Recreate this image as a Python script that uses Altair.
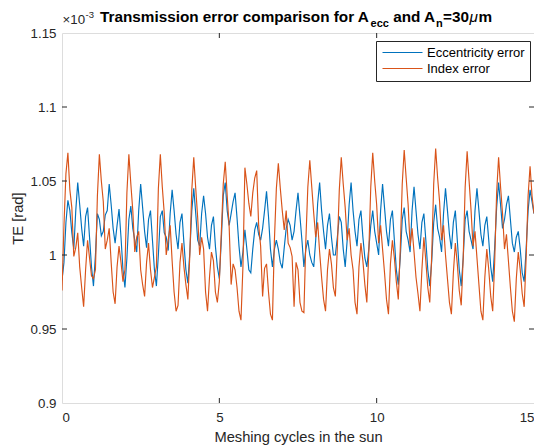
import altair as alt
import pandas as pd

# ---- data (values in units of 1e-3 rad) ----
series_names = ["Eccentricity error", "Index error"]
series_colors = ["#0072BD", "#D95319"]
x_ticks = [0, 5, 10, 15]
y_ticks = [0.9, 0.95, 1.0, 1.05, 1.1, 1.15]
inner_x_ticks = [5, 10]
inner_y_ticks = [0.95, 1.0, 1.05, 1.1]
samples_per_cycle = 16

ecc_error = [
    0.983, 0.995, 1.022, 1.037, 1.030, 1.015, 1.004, 1.030, 1.049, 1.034, 1.018, 1.006, 1.026, 1.032, 1.012, 0.992,
    0.979, 1.000, 1.028, 1.024, 1.013, 1.016, 1.027, 1.030, 1.048, 1.034, 1.018, 1.008, 1.020, 1.031, 1.012, 0.990,
    0.978, 0.998, 1.024, 1.033, 1.018, 1.010, 1.002, 1.030, 1.048, 1.032, 1.016, 1.005, 1.024, 1.030, 1.010, 0.990,
    0.979, 1.000, 1.026, 1.030, 1.015, 1.012, 1.003, 1.028, 1.044, 1.030, 1.014, 1.004, 1.022, 1.028, 1.008, 0.990,
    0.981, 1.002, 1.030, 1.045, 1.028, 1.010, 1.006, 1.028, 1.040, 1.028, 1.012, 1.004, 1.020, 1.026, 1.006, 0.992,
    0.984, 1.010, 1.040, 1.049, 1.030, 1.020, 1.028, 1.036, 1.042, 1.025, 1.006, 0.992, 1.002, 1.017, 1.004, 0.990,
    0.988, 1.004, 1.017, 1.022, 1.014, 1.010, 1.018, 1.030, 1.043, 1.026, 1.004, 0.992, 1.004, 1.010, 1.004, 0.995,
    0.991, 1.005, 1.018, 1.024, 1.020, 1.010, 1.016, 1.030, 1.042, 1.026, 1.010,
    0.992, 1.004, 1.010, 1.000, 0.995, 0.992, 1.010, 1.035, 1.049, 1.030, 1.016, 1.004, 1.020, 1.028, 1.012, 1.000,
    1.000, 1.012, 1.026, 1.022, 1.004, 0.992, 1.010, 1.034, 1.049, 1.030, 1.016, 1.006, 1.024, 1.030, 1.012, 0.998,
    0.992, 1.004, 1.020, 1.030, 1.016, 1.008, 1.000, 1.030, 1.048, 1.032, 1.016, 1.006, 1.024, 1.030, 1.010, 0.990,
    0.980, 0.998, 1.024, 1.032, 1.016, 1.010, 1.002, 1.030, 1.046, 1.030, 1.014, 1.004, 1.022, 1.028, 1.010, 0.990,
    0.979, 0.996, 1.022, 1.034, 1.018, 1.012, 1.002, 1.028, 1.045, 1.030, 1.014, 1.004, 1.022, 1.030, 1.010, 0.990,
    0.979, 0.998, 1.024, 1.030, 1.016, 1.010, 1.004, 1.030, 1.045, 1.030, 1.014, 1.006, 1.020, 1.026, 1.010, 0.992,
    0.982, 1.005, 1.032, 1.049, 1.034, 1.018, 1.024, 1.034, 1.040, 1.024, 1.008, 1.002, 1.012, 1.016, 1.004, 0.988,
    0.982, 1.004, 1.030, 1.044, 1.036, 1.028,
]

index_error = [
    0.976, 1.020, 1.055,
    1.069, 1.044, 1.032, 0.999, 1.005, 1.015, 0.992, 0.978, 0.965, 0.990, 1.010, 0.998, 0.986, 0.984, 0.990, 1.040,
    1.068, 1.050, 1.036, 1.004, 1.010, 1.018, 0.995, 0.975, 0.967, 0.992, 1.006, 0.995, 0.982, 0.990, 1.042,
    1.068, 1.048, 1.030, 1.002, 1.012, 1.016, 0.990, 0.980, 0.972, 0.995, 1.008, 0.990, 0.978, 0.985, 0.992, 1.045,
    1.068, 1.046, 1.028, 1.000, 1.010, 1.020, 0.996, 0.975, 0.962, 0.966, 0.995, 1.008, 0.992, 0.980, 0.970, 1.000, 1.044,
    1.066, 1.045, 1.025, 1.000, 1.012, 1.004, 0.975, 0.962, 0.985, 1.002, 0.996, 0.975, 0.968, 0.982, 1.015, 1.048,
    1.063, 1.040, 1.019, 0.980, 0.994, 0.990, 0.978, 0.962, 0.956, 0.992,
    1.059, 1.048, 1.035, 1.026, 1.042, 1.052,
    1.057, 1.020, 1.006, 0.972, 0.991, 0.994, 0.975, 0.960, 0.956, 1.010, 1.045,
    1.062, 1.045, 1.030, 1.017, 1.030, 1.008, 1.005, 0.999, 0.965, 0.995, 0.990, 0.968, 0.962, 0.961, 1.010, 1.046,
    1.064, 1.046, 1.028, 1.012, 1.022, 1.002, 0.985, 0.970, 0.962, 0.990, 1.004, 0.994, 0.978, 0.972, 1.005, 1.044,
    1.066, 1.048, 1.032, 1.010, 1.018, 1.000, 0.990, 0.968, 0.960, 0.992, 1.008, 0.996, 0.980, 0.968, 1.002, 1.046,
    1.069, 1.050, 1.034, 1.008, 1.020, 1.004, 0.988, 0.970, 0.960, 0.994, 1.010, 0.998, 0.982, 0.970, 1.004, 1.048,
    1.071, 1.052, 1.034, 1.006, 1.018, 1.002, 0.985, 0.974, 0.962, 0.990, 1.012, 0.996, 0.978, 0.968, 1.000, 1.048,
    1.072, 1.052, 1.036, 1.010, 1.020, 1.000, 0.984, 0.968, 0.960, 0.988, 1.008, 0.994, 0.976, 0.966, 0.998, 1.046,
    1.070, 1.050, 1.030, 1.006, 1.016, 0.998, 0.980, 0.962, 0.956, 0.985, 1.004, 0.990, 0.972, 0.962, 0.995, 1.042,
    1.066, 1.046, 1.028, 1.004, 1.014, 0.996, 0.978, 0.962, 0.955, 0.984, 1.002, 0.990, 0.974, 0.965, 0.998, 1.040,
    1.060, 1.040, 1.028,
]

# ---- table ----
rows = []
for name, vals in zip(series_names, [ecc_error, index_error]):
    for i, v in enumerate(vals):
        rows.append({"cycles": i / samples_per_cycle, "te": v, "series": name})
df = pd.DataFrame(rows)

W, H = 472, 370
FONT = "Liberation Sans"
AXC = "#262626"

xscale = alt.Scale(domain=[0, 15], nice=False, zero=False)
yscale = alt.Scale(domain=[0.9, 1.15], nice=False, zero=False)

xaxis = alt.Axis(values=x_ticks, title="Meshing cycles in the sun", grid=False,
                 domain=False, ticks=False, labelPadding=7, titlePadding=6,
                 labelFontSize=13.3, titleFontSize=14.7, labelColor=AXC, titleColor=AXC,
                 labelFont=FONT, titleFont=FONT, titleFontWeight="normal")
yaxis = alt.Axis(values=y_ticks, format=".3~g", title="TE [rad]", grid=False,
                 domain=False, ticks=False, labelPadding=6, titlePadding=5,
                 labelFontSize=13.3, titleFontSize=14.7, labelColor=AXC, titleColor=AXC,
                 labelFont=FONT, titleFont=FONT, titleFontWeight="normal")

lines = alt.Chart(df).mark_line(strokeWidth=1.15, clip=True).encode(
    x=alt.X("cycles:Q", scale=xscale, axis=xaxis),
    y=alt.Y("te:Q", scale=yscale, axis=yaxis),
    color=alt.Color("series:N", scale=alt.Scale(domain=series_names, range=series_colors),
                    legend=alt.Legend(orient="none", legendX=314, legendY=8, title=None,
                                      symbolType="M-1,0H7", symbolSize=100, symbolStrokeWidth=1.2,
                                      labelFont=FONT, labelFontSize=13, labelColor="black",
                                      labelOffset=33, strokeColor=AXC, fillColor="white",
                                      padding=5, rowPadding=2)),
)

xt = pd.DataFrame({"v": inner_x_ticks})
yt = pd.DataFrame({"v": inner_y_ticks})
tick_style = dict(color=AXC, strokeWidth=1)
bottom_ticks = alt.Chart(xt).mark_rule(**tick_style).encode(
    x=alt.X("v:Q", scale=xscale, axis=xaxis), y=alt.value(H), y2=alt.value(H - 5))
top_ticks = alt.Chart(xt).mark_rule(**tick_style).encode(
    x=alt.X("v:Q", scale=xscale, axis=xaxis), y=alt.value(0), y2=alt.value(5))
left_ticks = alt.Chart(yt).mark_rule(**tick_style).encode(
    y=alt.Y("v:Q", scale=yscale, axis=yaxis), x=alt.value(0), x2=alt.value(5))
right_ticks = alt.Chart(yt).mark_rule(**tick_style).encode(
    y=alt.Y("v:Q", scale=yscale, axis=yaxis), x=alt.value(W), x2=alt.value(W - 5))

one = pd.DataFrame({"a": [0]})

def label(text, x, y, size, weight="bold", color="black", style="normal"):
    return alt.Chart(one).mark_text(text=text, align="left", baseline="alphabetic", font=FONT,
                                    fontSize=size, fontWeight=weight, fontStyle=style,
                                    color=color).encode(x=alt.value(x), y=alt.value(y))

TB = -11   # title baseline (plot coords)
SB = -6    # subscript baseline
title_parts = [
    label("Transmission error comparison for A", 38.0, TB, 15.3),
    label("ecc", 308.6, SB, 11),
    label("and A", 331.2, TB, 15.3),
    label("n", 374.0, SB, 11),
    label("=30", 381.0, TB, 15.3),
    label("\u03bc", 407.5, TB, 15.3, weight="normal", style="italic"),
    label("m", 416.5, TB, 15.3),
]
exponent = [
    label("\u00d710", 0.5, -9, 13.3, weight="normal", color=AXC),
    label("-3", 23.5, -15, 9.5, weight="normal", color=AXC),
]

chart = alt.layer(lines, bottom_ticks, top_ticks, left_ticks, right_ticks,
                  *title_parts, *exponent).properties(
    width=W, height=H,
    padding={"left": 54, "top": 25, "right": 0, "bottom": 45},
    autosize=alt.AutoSizeParams(type="none"),
).configure_view(stroke=AXC, strokeWidth=1).configure(background="white")

chart.save("out.html", embed_options={"renderer": "svg", "actions": False})
